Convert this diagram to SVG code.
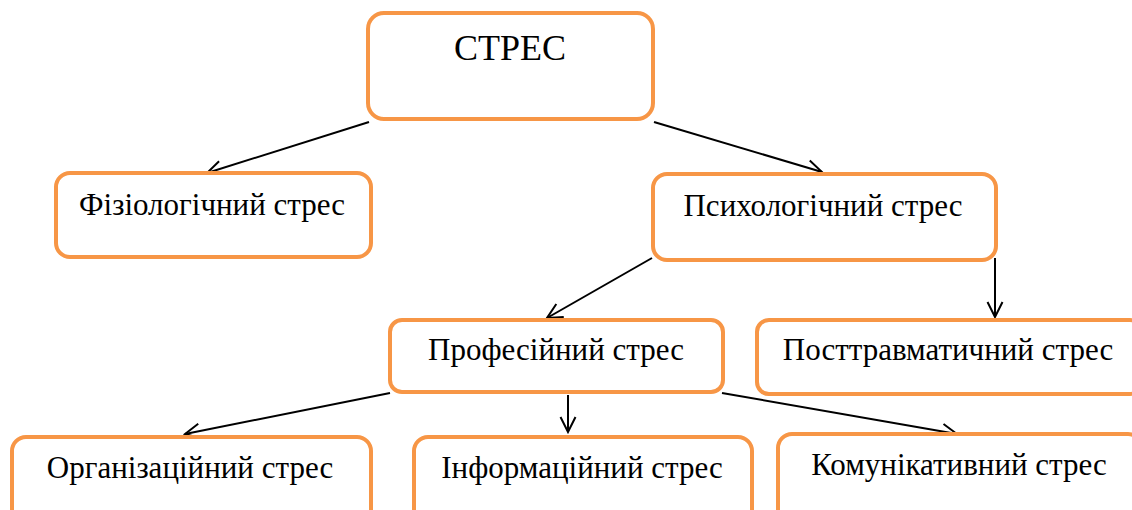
<svg xmlns="http://www.w3.org/2000/svg" width="1132" height="510" viewBox="0 0 1132 510">
<style>
.box{fill:#fff;stroke:#F79646;stroke-width:4}
.t{font-family:"Liberation Serif","Times New Roman",serif;font-size:31px;fill:#000;text-anchor:middle}
.c{stroke:#000;stroke-width:2;fill:none;marker-end:url(#ah)}
</style>
<defs>
<marker id="ah" viewBox="0 0 18 18" refX="16" refY="9" markerWidth="18" markerHeight="18" markerUnits="userSpaceOnUse" orient="auto">
<path d="M1,1.5 L16,9 L1,16.5" fill="none" stroke="#000" stroke-width="2"/>
</marker>
</defs>
<rect width="1132" height="510" fill="#fff"/>
<g id="connectors">
<line class="c" x1="369" y1="122" x2="207" y2="173"/>
<line class="c" x1="654" y1="122" x2="822" y2="172"/>
<line class="c" x1="652" y1="258" x2="547" y2="318"/>
<line class="c" x1="995" y1="258" x2="995" y2="317"/>
<line class="c" x1="390" y1="393" x2="185" y2="434"/>
<line class="c" x1="568" y1="395" x2="568" y2="432"/>
<line class="c" x1="722" y1="393" x2="957" y2="434"/>
</g>
<g id="stres">
<rect class="box" x="368" y="13" width="285" height="106" rx="16"/>
<text class="t" x="510" y="60" style="font-size:36px">СТРЕС</text>
</g>
<g id="fiziologichnyi">
<rect class="box" x="56" y="173" width="315" height="84" rx="14"/>
<text class="t" x="212" y="215">Фізіологічний стрес</text>
</g>
<g id="psykholohichnyi">
<rect class="box" x="653" y="174" width="343" height="86" rx="14"/>
<text class="t" x="823" y="216">Психологічний стрес</text>
</g>
<g id="profesiinyi">
<rect class="box" x="390" y="320" width="333" height="72" rx="12"/>
<text class="t" x="556" y="360">Професійний стрес</text>
</g>
<g id="posttravmatychnyi">
<rect class="box" x="757" y="320" width="385" height="74" rx="12"/>
<text class="t" x="948" y="360">Посттравматичний стрес</text>
</g>
<g id="orhanizatsiinyi">
<rect class="box" x="12" y="437" width="359" height="90" rx="14"/>
<text class="t" x="190" y="478">Організаційний стрес</text>
</g>
<g id="informatsiinyi">
<rect class="box" x="414" y="437" width="338" height="90" rx="14"/>
<text class="t" x="582" y="478">Інформаційний стрес</text>
</g>
<g id="komunikatyvnyi">
<rect class="box" x="778" y="434" width="364" height="90" rx="14"/>
<text class="t" x="959" y="475">Комунікативний стрес</text>
</g>
</svg>
